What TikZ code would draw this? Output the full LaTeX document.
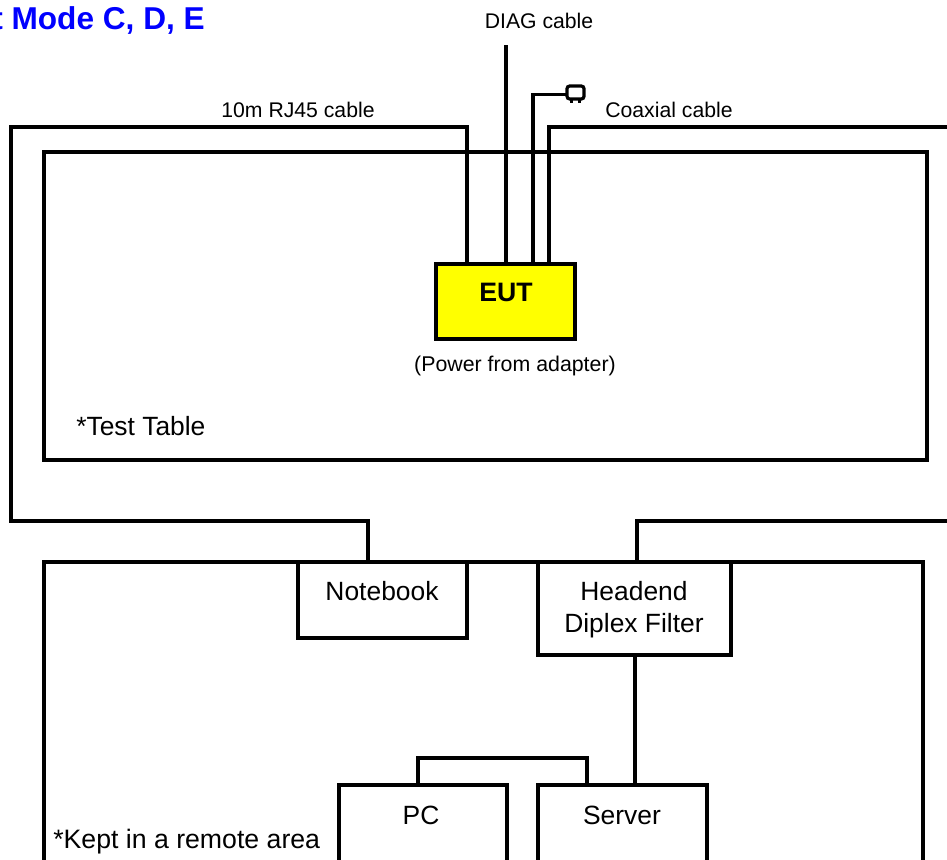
\documentclass[tikz,border=0pt]{standalone}
\usepackage{fontspec}
\setmainfont{Liberation Sans}
\usetikzlibrary{arrows.meta, positioning}
\definecolor{eutyellow}{RGB}{255,255,0}
\definecolor{titleblue}{RGB}{0,0,255}

\begin{document}
\begin{tikzpicture}[
    x=0.75pt, y=-0.75pt,
    region/.style = {rectangle, draw, line width=2.5pt, outer sep=0pt, anchor=north west},
    device/.style = {rectangle, draw, fill=white, line width=2.5pt, outer sep=0pt, anchor=north west},
    eutbox/.style = {device, fill=eutyellow},
    plug/.style = {rectangle, draw, fill=white, line width=2.4pt, rounded corners=2pt, outer sep=0pt},
    cable/.style = {draw, line width=2.5pt, line join=miter},
    caption/.style = {font=\fontsize{15.9pt}{18pt}\selectfont, inner sep=0pt},
    boxtext/.style = {font=\fontsize{19.8pt}{24pt}\selectfont, inner sep=0pt, align=center}
]
    \useasboundingbox (0,0) rectangle (947,860);

    \node [font=\fontsize{23.7pt}{28pt}\selectfont\bfseries, text=titleblue, inner sep=0pt, anchor=east] (title) at (205,20) {t Mode C, D, E};

    \node [region, minimum width=883*0.75pt, minimum height=308*0.75pt] (table) at (44,152) {};
    \node [region, minimum width=879*0.75pt, minimum height=330*0.75pt] (remote) at (44,562) {};

    % free ends of the cables
    \coordinate (diagend) at (506,45);
    \coordinate (coaxend) at (947,127);
    \coordinate (coaxback) at (947,521);

    \node [eutbox, minimum width=139*0.75pt, minimum height=75*0.75pt] (eut) at (436,264) {};
    \node [device, minimum width=169*0.75pt, minimum height=76*0.75pt] (notebook) at (298,562) {};
    \node [device, minimum width=193*0.75pt, minimum height=93*0.75pt] (headend) at (538,562) {};
    \node [device, minimum width=168*0.75pt, minimum height=120*0.75pt] (pc) at (339,785) {};
    \node [device, minimum width=169*0.75pt, minimum height=120*0.75pt] (server) at (538,785) {};
    \node [plug, minimum width=17*0.75pt, minimum height=13*0.75pt, inner sep=0pt] (antenna) at (575.5,92.5) {};

    \node [font=\fontsize{20pt}{24pt}\selectfont\bfseries, inner sep=0pt] (euttext) at (506,292) {EUT};
    \node [caption, font=\fontsize{16pt}{20pt}\selectfont] (power) at (515,366) {(Power from adapter)};
    \node [boxtext, anchor=west] (tabletext) at (76,426) {*Test Table};
    \node [boxtext, anchor=west, font=\fontsize{20pt}{24pt}\selectfont] (remotetext) at (53,842) {*Kept in a remote area};
    \node [boxtext] (notebooktext) at (382,591) {Notebook};
    \node [boxtext] (headendtext) at (634,610) {Headend\\Diplex Filter};
    \node [boxtext] (pctext) at (421,815) {PC};
    \node [boxtext] (servertext) at (622,815) {Server};

    \node [caption] (diaglabel) at (539,21) {DIAG cable};
    \node [caption] (rjlabel) at (298,110) {10m RJ45 cable};
    \node [caption] (coaxlabel) at (669,110) {Coaxial cable};

    \draw [cable] (eut.north -| 467,0) -- (467,127) -- (11,127) -- (11,521) -- (368,521) -- (notebook.north -| 368,0);
    \draw [cable] (eut.north -| diagend) -- (diagend);
    \draw [cable] (eut.north -| 533,0) -- (533,94.5) -- (antenna.west |- 0,94.5);
    \draw [cable] (eut.north -| 549,0) -- (549,127) -- (coaxend);
    \draw [cable] (coaxback) -- (637,521) -- (headend.north -| 637,0);
    \draw [cable] (headend.south -| 635,0) -- (server.north -| 635,0);
    \draw [cable] (pc.north -| 418,0) -- (418,758) -- (587,758) -- (server.north -| 587,0);
    \draw [line width=2pt] (antenna.south west) ++(3.5pt,0) -- ++(0,-3pt);
    \draw [line width=2pt] (antenna.south east) ++(-3.5pt,0) -- ++(0,-3pt);
\end{tikzpicture}
\end{document}
